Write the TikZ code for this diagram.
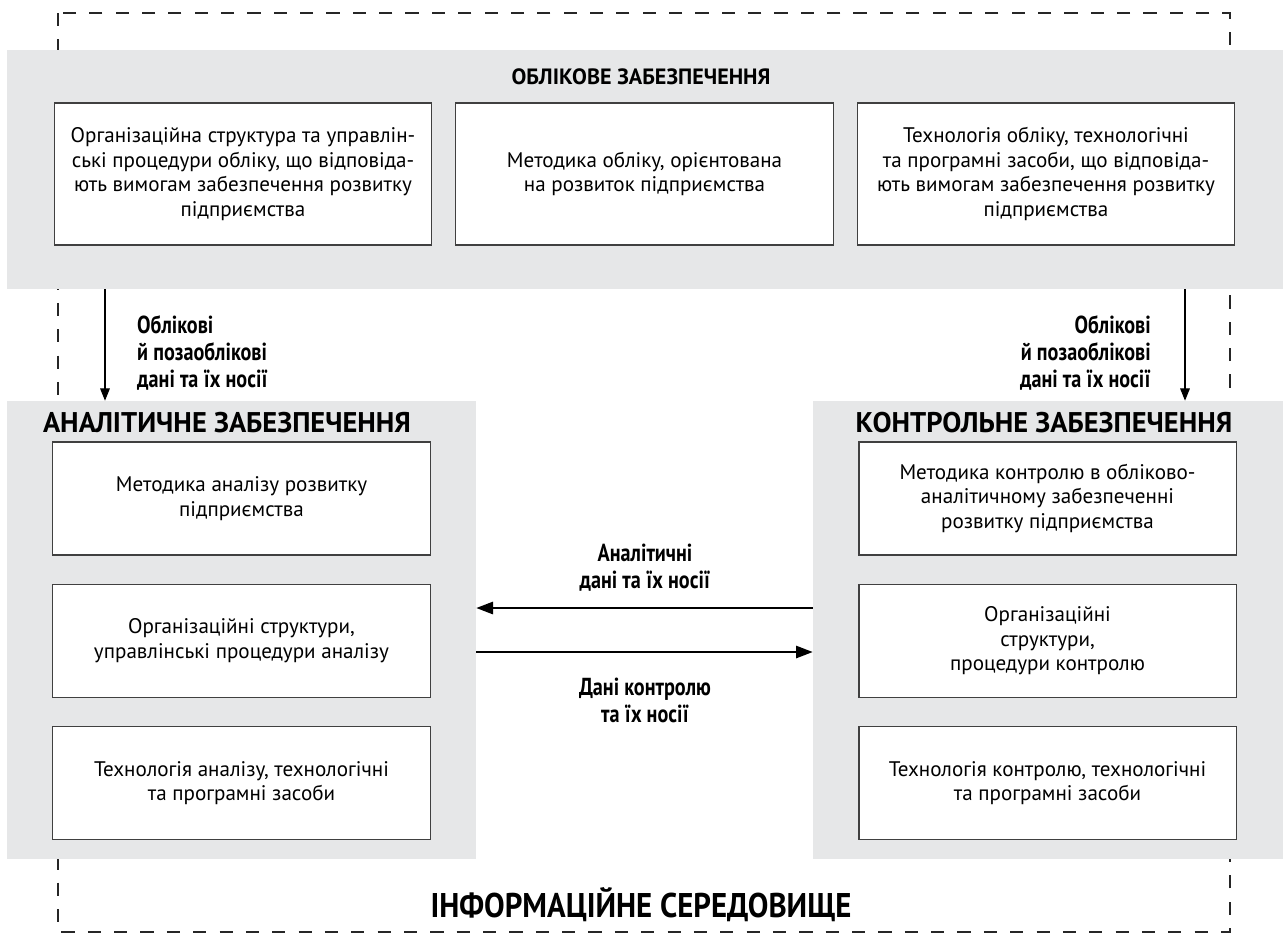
\documentclass[tikz,border=0pt]{standalone}
\usepackage{fontspec}
\setmainfont{PT Sans}
\newfontfamily\narrowfont[FakeStretch=0.82]{PT Sans}
\newfontfamily\semiwidefont[FakeStretch=0.9]{PT Sans}
\usetikzlibrary{positioning, arrows.meta}
\definecolor{panelgray}{RGB}{230,231,232}

\tikzset{
  panel/.style={fill=panelgray, draw=none, inner sep=0pt},
  itembox/.style={draw=black!75, line width=0.8pt, fill=white, align=center,
    inner sep=0pt, minimum width=7.55cm, minimum height=#1,
    font=\fontsize{12}{14}\selectfont},
  paneltitle/.style={font=\bfseries\fontsize{16.2}{19}\selectfont},
  flowlabel/.style={font=\narrowfont\bfseries\fontsize{14}{15.3}\selectfont},
  envline/.style={draw=black!85, line width=1.3pt, dash pattern=on 7.5pt off 7.5pt},
  flow/.style={-{Triangle[length=7pt,width=5.5pt]}, line width=0.6pt},
  flowbold/.style={-{Triangle[length=9.5pt,width=7pt]}, line width=1.1pt}
}

\begin{document}
\begin{tikzpicture}[x=0.02cm, y=-0.02cm, node distance=0.56cm]
\useasboundingbox (0,0) rectangle (1283,944);
% information environment
\draw[envline] (58,13) rectangle (1230,932);
\node[font=\semiwidefont\bfseries\fontsize{19.5}{22}\selectfont] (env) at (641,905) {ІНФОРМАЦІЙНЕ СЕРЕДОВИЩЕ};
%
% accounting support
\node[panel, minimum width=25.52cm, minimum height=4.78cm] (acc) at (645,169.5) {};
\node[font=\bfseries\fontsize{12.6}{15}\selectfont] (acct) at (641,77) {ОБЛІКОВЕ ЗАБЕЗПЕЧЕННЯ};
\node[itembox=2.84cm] (acc1) at (243,174) {Організаційна структура та управлін-\\ські процедури обліку, що відповіда-\\ють вимогам забезпечення розвитку\\підприємства};
\node[itembox=2.84cm] (acc2) at (644.5,174) {Методика обліку, орієнтована\\на розвиток підприємства};
\node[itembox=2.84cm] (acc3) at (1046,174) {Технологія обліку, технологічні\\та програмні засоби, що відповіда-\\ють вимогам забезпечення розвитку\\підприємства};
%
% analytical support
\node[panel, minimum width=9.38cm, minimum height=9.16cm] (anl) at (241.5,630) {};
\node[paneltitle] (anlt) at (227,423) {АНАЛІТИЧНЕ ЗАБЕЗПЕЧЕННЯ};
\node[itembox=2.26cm] (anl1) at (241.5,498.5) {Методика аналізу розвитку\\підприємства};
\node[itembox=2.26cm, below=of anl1] (anl2) {Організаційні структури,\\управлінські процедури аналізу};
\node[itembox=2.26cm, below=of anl2] (anl3) {Технологія аналізу, технологічні\\та програмні засоби};
%
% control support
\node[panel, minimum width=9.4cm, minimum height=9.16cm] (ctl) at (1048,630) {};
\node[paneltitle] (ctlt) at (1044,423) {КОНТРОЛЬНЕ ЗАБЕЗПЕЧЕННЯ};
\node[itembox=2.26cm] (ctl1) at (1047.5,498.5) {Методика контролю в обліково-\\аналітичному забезпеченні\\розвитку підприємства};
\node[itembox=2.26cm, below=of ctl1] (ctl2) {Організаційні\\структури,\\процедури контролю};
\node[itembox=2.26cm, below=of ctl2] (ctl3) {Технологія контролю, технологічні\\та програмні засоби};
%
% flows
\coordinate (lcol) at (105,0);
\coordinate (rcol) at (1185,0);
\coordinate (upper) at (0,608);
\coordinate (lower) at (0,652);
\draw[flow] (lcol |- acc.south) -- (lcol |- anl.north);
\draw[flow] (rcol |- acc.south) -- (rcol |- ctl.north);
\draw[flowbold] (ctl.west |- upper) -- (anl.east |- upper);
\draw[flowbold] (anl.east |- lower) -- (ctl.west |- lower);
\node[flowlabel, anchor=west, align=left] (lf1) at (131,353) {Облікові\\й позаоблікові\\дані та їх носії};
\node[flowlabel, anchor=east, align=right] (lf2) at (1157,353) {Облікові\\й позаоблікові\\дані та їх носії};
\node[flowlabel, align=center] (lf3) at (645,568) {Аналітичні\\дані та їх носії};
\node[flowlabel, align=center] (lf4) at (645,700) {Дані контролю\\та їх носії};
\end{tikzpicture}
\end{document}
